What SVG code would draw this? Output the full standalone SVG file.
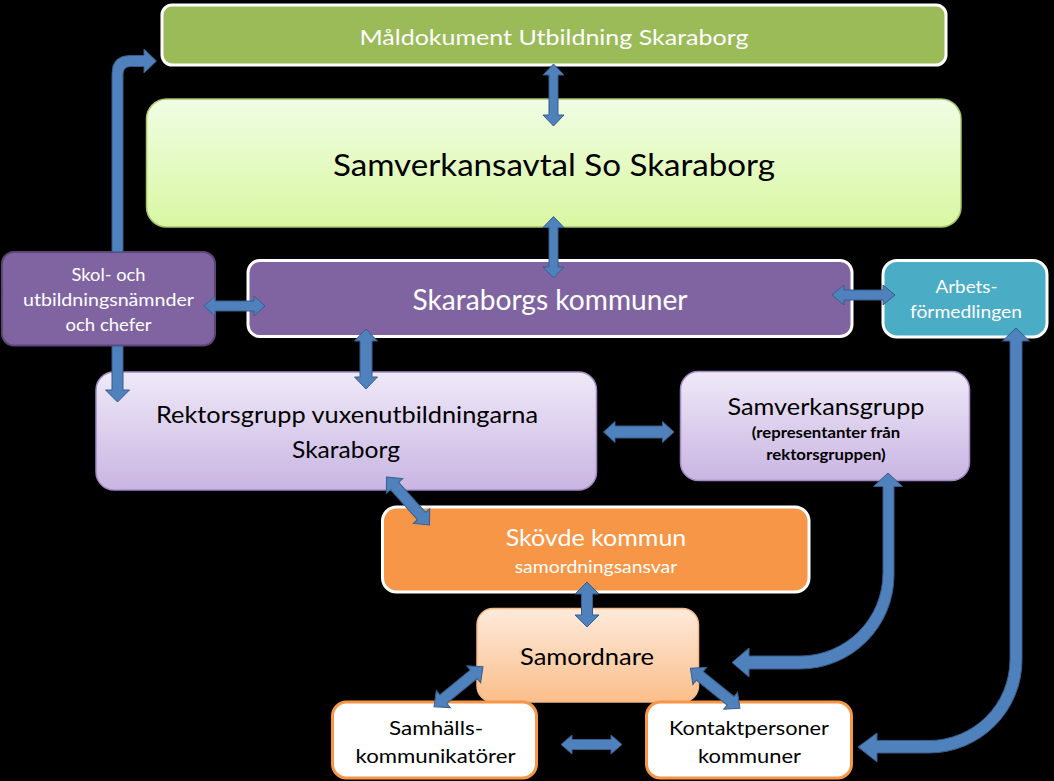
<svg xmlns="http://www.w3.org/2000/svg" width="1054" height="781" viewBox="0 0 1054 781">
<defs>
<linearGradient id="gGreen" x1="0" y1="0" x2="0" y2="1"><stop offset="0" stop-color="#F0FDE4"/><stop offset="1" stop-color="#D9F7A2"/></linearGradient>
<linearGradient id="gLav" x1="0" y1="0" x2="0" y2="1"><stop offset="0" stop-color="#EFE9F8"/><stop offset="1" stop-color="#C9B5E2"/></linearGradient>
<linearGradient id="gPeach" x1="0" y1="0" x2="0" y2="1"><stop offset="0" stop-color="#FDEADB"/><stop offset="1" stop-color="#FBBE8A"/></linearGradient>
<style>
text{font-family:Lato,"Liberation Sans",sans-serif;text-anchor:middle}
.w{fill:#FFFFFF}
.k{fill:#000000}
.b{font-weight:bold}
.ws{stroke:#FFFFFF;stroke-width:3}
.arr path{fill:#4F81BD;stroke:#385D8A;stroke-width:1;stroke-linejoin:miter}
</style>
</defs>
<rect x="0" y="0" width="1054" height="781" fill="#000000"/>

<g id="maldokument">
<rect x="162" y="5" width="784" height="60" rx="10" fill="#9BBB59" class="ws"/>
<text x="554" y="45" font-size="22" class="w" textLength="389" lengthAdjust="spacingAndGlyphs">Måldokument Utbildning Skaraborg</text>
</g>

<g id="samverkansavtal">
<rect x="146.5" y="99" width="814.5" height="128" rx="20" fill="url(#gGreen)" stroke="#A5C46B" stroke-width="1.5"/>
<text x="554" y="176" font-size="31" class="k" textLength="442" lengthAdjust="spacingAndGlyphs">Samverkansavtal So Skaraborg</text>
</g>

<g id="skaraborgs-kommuner">
<rect x="248" y="260.5" width="604" height="76" rx="12" fill="#8064A2" class="ws"/>
<text x="550" y="310" font-size="28" class="w" textLength="275" lengthAdjust="spacingAndGlyphs">Skaraborgs kommuner</text>
</g>

<g id="skol-och-utbildningsnamnder">
<rect x="2" y="252" width="213" height="93.5" rx="12" fill="#8064A2" stroke="#5C4776" stroke-width="2"/>
<text x="108.5" y="281" font-size="18" class="w" textLength="74" lengthAdjust="spacingAndGlyphs">Skol- och</text>
<text x="108.5" y="306" font-size="18" class="w" textLength="171" lengthAdjust="spacingAndGlyphs">utbildningsnämnder</text>
<text x="108.5" y="331" font-size="18" class="w" textLength="86" lengthAdjust="spacingAndGlyphs">och chefer</text>
</g>

<g id="arbetsformedlingen">
<rect x="883" y="260.5" width="164" height="76.5" rx="14" fill="#4BACC6" class="ws"/>
<text x="966.5" y="293" font-size="18" class="w" textLength="62" lengthAdjust="spacingAndGlyphs">Arbets-</text>
<text x="966" y="318" font-size="18" class="w" textLength="112" lengthAdjust="spacingAndGlyphs">förmedlingen</text>
</g>

<g id="rektorsgrupp">
<rect x="96" y="372" width="500.5" height="118" rx="18" fill="url(#gLav)" stroke="#A18AC2" stroke-width="1.5"/>
<text x="347" y="423" font-size="23" class="k" textLength="382" lengthAdjust="spacingAndGlyphs">Rektorsgrupp vuxenutbildningarna</text>
<text x="346" y="458" font-size="23" class="k" textLength="108" lengthAdjust="spacingAndGlyphs">Skaraborg</text>
</g>

<g id="samverkansgrupp">
<rect x="680.5" y="371.5" width="289" height="109" rx="18" fill="url(#gLav)" stroke="#A18AC2" stroke-width="1.5"/>
<text x="826" y="415" font-size="24" class="k" textLength="197" lengthAdjust="spacingAndGlyphs">Samverkansgrupp</text>
<text x="826" y="438" font-size="15" class="k b" textLength="148.6" lengthAdjust="spacingAndGlyphs">(representanter från</text>
<text x="826" y="460" font-size="15" class="k b" textLength="119.4" lengthAdjust="spacingAndGlyphs">rektorsgruppen)</text>
</g>

<g id="skovde-kommun">
<rect x="382.5" y="507" width="426.5" height="85" rx="14" fill="#F79646" class="ws"/>
<text x="596" y="546" font-size="23" class="w" textLength="180.6" lengthAdjust="spacingAndGlyphs">Skövde kommun</text>
<text x="596" y="572.5" font-size="18" class="w" textLength="162.6" lengthAdjust="spacingAndGlyphs">samordningsansvar</text>
</g>

<g id="samordnare">
<rect x="477" y="608.5" width="221.5" height="93.5" rx="16" fill="url(#gPeach)" stroke="#F8B888" stroke-width="1.5"/>
<text x="587" y="665" font-size="23" class="k" textLength="134" lengthAdjust="spacingAndGlyphs">Samordnare</text>
</g>

<g id="samhallskommunikatorer">
<rect x="332.5" y="702" width="204" height="76" rx="14" fill="#FFFFFF" stroke="#F79646" stroke-width="3"/>
<text x="436" y="735" font-size="20" class="k" textLength="94" lengthAdjust="spacingAndGlyphs">Samhälls-</text>
<text x="435.5" y="763" font-size="20" class="k" textLength="160" lengthAdjust="spacingAndGlyphs">kommunikatörer</text>
</g>

<g id="kontaktpersoner">
<rect x="646.5" y="702" width="205" height="76" rx="14" fill="#FFFFFF" stroke="#F79646" stroke-width="3"/>
<text x="749" y="735" font-size="20" class="k" textLength="160" lengthAdjust="spacingAndGlyphs">Kontaktpersoner</text>
<text x="749.5" y="763" font-size="20" class="k" textLength="103" lengthAdjust="spacingAndGlyphs">kommuner</text>
</g>

<g id="connectors" class="arr">
<path d="M553.5,64 L564,75 L558,75 L558,115 L564,115 L553.5,126 L543,115 L549,115 L549,75 L543,75 Z"/>
<path d="M553.5,216.5 L564,227.5 L558,227.5 L558,267 L564,267 L553.5,278 L543,267 L549,267 L549,227.5 L543,227.5 Z"/>
<path d="M366,329 L377.5,341 L372,341 L372,377 L377.5,377 L366,389 L354.5,377 L360,377 L360,341 L354.5,341 Z"/>
<path d="M587,582 L599,594 L592.5,594 L592.5,615 L599,615 L587,627 L575,615 L581.5,615 L581.5,594 L575,594 Z"/>
<path d="M204,306 L215,296 L215,301 L254,301 L254,296 L265,306 L254,316 L254,311 L215,311 L215,316 Z"/>
<path d="M832,295 L844,285 L844,290 L883,290 L883,285 L895,295 L883,305 L883,300 L844,300 L844,305 Z"/>
<path d="M603.5,432 L615,421.5 L615,426 L662.5,426 L662.5,421.5 L674,432 L662.5,442.5 L662.5,438 L615,438 L615,442.5 Z"/>
<path d="M561,744.5 L572,735 L572,739.5 L611,739.5 L611,735 L622,744.5 L611,754 L611,749.5 L572,749.5 L572,754 Z"/>
<path transform="translate(408,501) rotate(48.1)" d="M-32.2,0 L-20.2,-11 L-20.2,-5.5 L20.2,-5.5 L20.2,-11 L32.2,0 L20.2,11 L20.2,5.5 L-20.2,5.5 L-20.2,11 Z"/>
<path transform="translate(458.5,686.7) rotate(140.8)" d="M-31.6,0 L-19.6,-11 L-19.6,-5.5 L19.6,-5.5 L19.6,-11 L31.6,0 L19.6,11 L19.6,5.5 L-19.6,5.5 L-19.6,11 Z"/>
<path transform="translate(715.2,688.3) rotate(38.9)" d="M-31.8,0 L-19.8,-11 L-19.8,-5.5 L19.8,-5.5 L19.8,-11 L31.8,0 L19.8,11 L19.8,5.5 L-19.8,5.5 L-19.8,11 Z"/>
<path d="M112,252 L112,73.5 Q112,55.5 130,55.5 L144,55.5 L144,49 L156.5,61 L144,73 L144,66.5 L131,66.5 Q123,66.5 123,74.5 L123,252 Z M112,346 L123,346 L123,390 L129.5,390 L117.5,402 L105.5,390 L112,390 Z"/>
<path d="M888,473 L902.5,486.5 L894,486.5 L894,575 A94,94 0 0 1 800,669 L749,669 L749,677 L732,662.5 L749,648 L749,656 L800,656 A83,83 0 0 0 883,573 L883,486.5 L873.5,486.5 Z"/>
<path d="M1016,328 L1029.5,341 L1022,341 L1022,660 A93,93 0 0 1 929,753 L877,753 L877,762 L858,747 L877,733 L877,740.5 L929,740.5 A81,81 0 0 0 1010,659.5 L1010,341 L1002.5,341 Z"/>
</g>
</svg>
